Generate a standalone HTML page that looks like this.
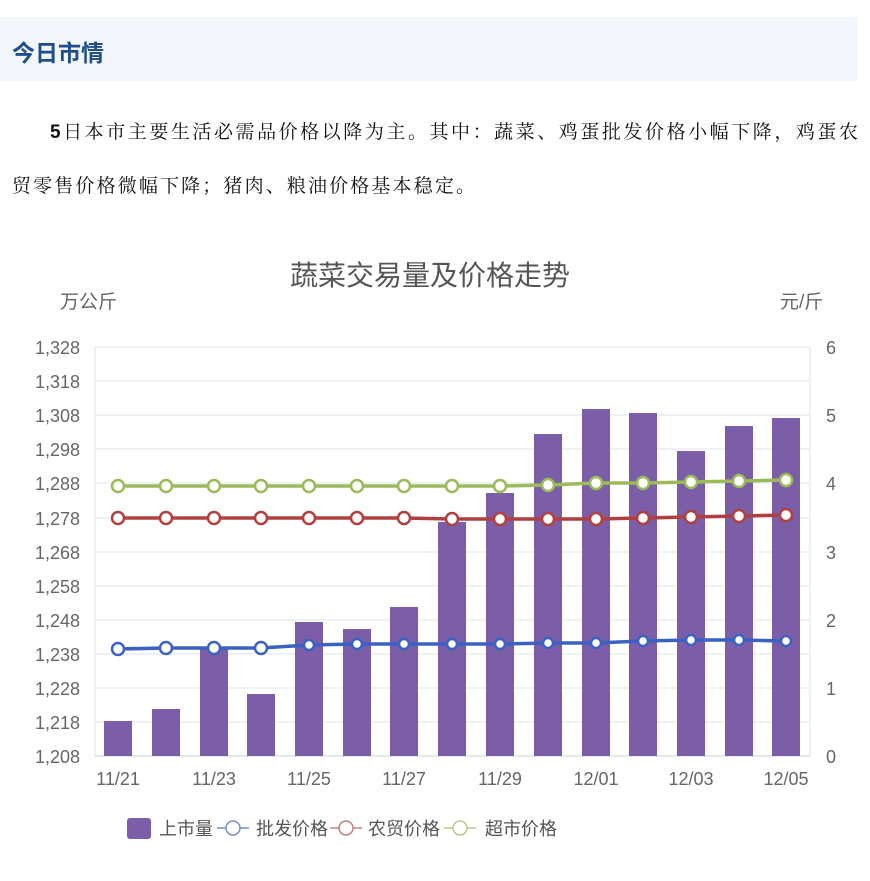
<!DOCTYPE html>
<html><head><meta charset="utf-8"><style>html,body{margin:0;padding:0;background:#fff}svg{display:block}</style></head>
<body>
<svg width="870" height="881" xmlns="http://www.w3.org/2000/svg" font-family="Liberation Sans, Noto Sans CJK SC, sans-serif">
<rect x="0" y="17" width="858" height="64" fill="#f3f6fb"/>
<text x="12" y="61" font-size="23" font-weight="bold" fill="#1f4e8c">今日市情</text>
<text x="50" y="138" font-size="19" fill="#111" textLength="808" lengthAdjust="spacing" font-family="Noto Serif CJK SC, serif"><tspan font-family="Liberation Sans, sans-serif" font-weight="bold">5</tspan>日本市主要生活必需品价格以降为主。其中：蔬菜、鸡蛋批发价格小幅下降，鸡蛋农</text>
<text x="12" y="192" font-size="19" fill="#111" textLength="463" lengthAdjust="spacing" font-family="Noto Serif CJK SC, serif">贸零售价格微幅下降；猪肉、粮油价格基本稳定。</text>
<text x="430" y="285" font-size="28" fill="#555" text-anchor="middle">蔬菜交易量及价格走势</text>
<text x="60" y="308" font-size="19" fill="#666">万公斤</text>
<text x="780" y="308" font-size="19" fill="#666">元/斤</text>
<g stroke="#dde3ee" stroke-width="1">
<line x1="95" y1="347" x2="810" y2="347"/><line x1="95" y1="381" x2="810" y2="381"/><line x1="95" y1="415" x2="810" y2="415"/><line x1="95" y1="449" x2="810" y2="449"/><line x1="95" y1="483" x2="810" y2="483"/><line x1="95" y1="518" x2="810" y2="518"/><line x1="95" y1="552" x2="810" y2="552"/><line x1="95" y1="586" x2="810" y2="586"/><line x1="95" y1="620" x2="810" y2="620"/><line x1="95" y1="654" x2="810" y2="654"/><line x1="95" y1="688" x2="810" y2="688"/><line x1="95" y1="722" x2="810" y2="722"/>
<line x1="95" y1="347" x2="95" y2="756"/><line x1="810" y1="347" x2="810" y2="756"/>
</g>
<line x1="95" y1="756" x2="810" y2="756" stroke="#c8d0dc"/>
<g font-size="18" fill="#666" text-anchor="end">
<text x="80" y="354">1,328</text><text x="80" y="388">1,318</text><text x="80" y="422">1,308</text><text x="80" y="456">1,298</text><text x="80" y="490">1,288</text><text x="80" y="525">1,278</text><text x="80" y="559">1,268</text><text x="80" y="593">1,258</text><text x="80" y="627">1,248</text><text x="80" y="661">1,238</text><text x="80" y="695">1,228</text><text x="80" y="729">1,218</text><text x="80" y="763">1,208</text>
</g>
<g font-size="18" fill="#666">
<text x="826" y="354">6</text><text x="826" y="422">5</text><text x="826" y="490">4</text><text x="826" y="559">3</text><text x="826" y="627">2</text><text x="826" y="695">1</text><text x="826" y="763">0</text>
</g>
<g fill="#7b5ea7">
<rect x="104" y="721" width="28" height="35"/><rect x="152" y="709" width="28" height="47"/><rect x="200" y="647" width="28" height="109"/><rect x="247" y="694" width="28" height="62"/><rect x="295" y="622" width="28" height="134"/><rect x="343" y="629" width="28" height="127"/><rect x="390" y="607" width="28" height="149"/><rect x="438" y="522" width="28" height="234"/><rect x="486" y="493" width="28" height="263"/><rect x="534" y="434" width="28" height="322"/><rect x="582" y="409" width="28" height="347"/><rect x="629" y="413" width="28" height="343"/><rect x="677" y="451" width="28" height="305"/><rect x="725" y="426" width="28" height="330"/><rect x="772" y="418" width="28" height="338"/>
</g>
<g font-size="18" fill="#666" text-anchor="middle">
<text x="118" y="785">11/21</text><text x="214" y="785">11/23</text><text x="309" y="785">11/25</text><text x="404" y="785">11/27</text><text x="500" y="785">11/29</text><text x="596" y="785">12/01</text><text x="691" y="785">12/03</text><text x="786" y="785">12/05</text>
</g>
<g stroke-width="3.5" fill="#fff">
<polyline fill="none" stroke="#9bbb59" points="118,486 166,486 214,486 261,486 309,486 357,486 404,486 452,486 500,486 548,485 596,483 643,483 691,482 739,481 786,480"/>
<polyline fill="none" stroke="#b04040" points="118,518 166,518 214,518 261,518 309,518 357,518 404,518 452,519 500,519 548,519 596,519 643,518 691,517 739,516 786,515"/>
<polyline fill="none" stroke="#3b62c2" points="118,649 166,648 214,648 261,648 309,645 357,644 404,644 452,644 500,644 548,643 596,643 643,641 691,640 739,640 786,641"/>
</g>
<g fill="#fff" stroke-width="2.5">
<g stroke="#9bbb59"><circle cx="118" cy="486" r="6"/><circle cx="166" cy="486" r="6"/><circle cx="214" cy="486" r="6"/><circle cx="261" cy="486" r="6"/><circle cx="309" cy="486" r="6"/><circle cx="357" cy="486" r="6"/><circle cx="404" cy="486" r="6"/><circle cx="452" cy="486" r="6"/><circle cx="500" cy="486" r="6"/><circle cx="548" cy="485" r="6"/><circle cx="596" cy="483" r="6"/><circle cx="643" cy="483" r="6"/><circle cx="691" cy="482" r="6"/><circle cx="739" cy="481" r="6"/><circle cx="786" cy="480" r="6"/></g>
<g stroke="#b04040"><circle cx="118" cy="518" r="6"/><circle cx="166" cy="518" r="6"/><circle cx="214" cy="518" r="6"/><circle cx="261" cy="518" r="6"/><circle cx="309" cy="518" r="6"/><circle cx="357" cy="518" r="6"/><circle cx="404" cy="518" r="6"/><circle cx="452" cy="519" r="6"/><circle cx="500" cy="519" r="6"/><circle cx="548" cy="519" r="6"/><circle cx="596" cy="519" r="6"/><circle cx="643" cy="518" r="6"/><circle cx="691" cy="517" r="6"/><circle cx="739" cy="516" r="6"/><circle cx="786" cy="515" r="6"/></g>
<g stroke="#3b62c2"><circle cx="118" cy="649" r="6"/><circle cx="166" cy="648" r="6"/><circle cx="214" cy="648" r="6"/><circle cx="261" cy="648" r="6"/><circle cx="309" cy="645" r="5"/><circle cx="357" cy="644" r="5"/><circle cx="404" cy="644" r="5"/><circle cx="452" cy="644" r="5"/><circle cx="500" cy="644" r="5"/><circle cx="548" cy="643" r="5"/><circle cx="596" cy="643" r="5"/><circle cx="643" cy="641" r="5"/><circle cx="691" cy="640" r="5"/><circle cx="739" cy="640" r="5"/><circle cx="786" cy="641" r="5"/></g>
</g>
<rect x="127" y="818" width="24" height="21" rx="3" fill="#7b5ea7"/>
<g font-size="18" fill="#555">
<text x="159" y="835">上市量</text><text x="256" y="835">批发价格</text><text x="368" y="835">农贸价格</text><text x="485" y="835">超市价格</text>
</g>
<g fill="#fff" stroke-width="1.5">
<line x1="217" y1="828" x2="249" y2="828" stroke="#7a8fc8"/><circle cx="233" cy="828" r="7" stroke="#7a8fc8"/>
<line x1="330" y1="828" x2="362" y2="828" stroke="#c48080"/><circle cx="346" cy="828" r="7" stroke="#c48080"/>
<line x1="444" y1="828" x2="476" y2="828" stroke="#b8c88a"/><circle cx="460" cy="828" r="7" stroke="#b8c88a"/>
</g>
</svg>
</body></html>
